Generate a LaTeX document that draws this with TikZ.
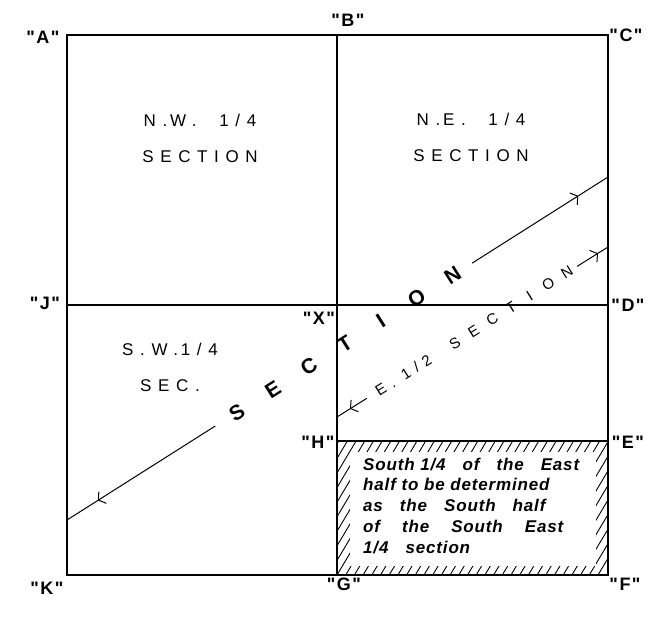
\documentclass[tikz,border=0pt]{standalone}
\usepackage{fontspec}
\setmainfont{Liberation Sans}
\newfontfamily\quarterfont[LetterSpace=39]{Liberation Sans}
\newfontfamily\halffont[LetterSpace=40]{Liberation Sans}
\newfontfamily\notefont[LetterSpace=5]{Liberation Sans}
\usetikzlibrary{arrows.meta,calc}
\newcommand\qq[1]{\textquotedbl\kern1.5pt#1\kern1.5pt\textquotedbl}
\newcommand\wsp{\hspace{17pt}}

\tikzset{
  corner/.style={font=\fontsize{18}{18}\selectfont\bfseries, inner sep=0pt},
  quarter/.style={font=\fontsize{17}{36}\selectfont\quarterfont, align=center, inner sep=0pt},
  bigletter/.style={font=\fontsize{21}{21}\selectfont\bfseries, inner sep=0pt},
  halftext/.style={font=\fontsize{15}{15}\selectfont\halffont, inner sep=0pt},
  halfletter/.style={font=\fontsize{15}{15}\selectfont, inner sep=0pt},
  note/.style={font=\fontsize{17}{20.8}\selectfont\notefont\bfseries\itshape, align=left, inner sep=0pt},
  bound/.style={line width=2pt},
  divide/.style={line width=1.6pt},
  bearing/.style={line width=1pt},
  barb/.style={-{Straight Barb[length=5pt,width=14pt]}},
}

\begin{document}
\begin{tikzpicture}[x=1pt,y=-1pt]
\useasboundingbox (0,0) rectangle (658,617);
% section corners
\coordinate (A) at (67,35);
\coordinate (B) at (337,35);
\coordinate (C) at (608,35);
\coordinate (J) at (67,305);
\coordinate (X) at (337,305);
\coordinate (D) at (608,305);
\coordinate (H) at (337,441);
\coordinate (E) at (608,441);
\coordinate (K) at (67,575);
\coordinate (G) at (337,575);
\coordinate (F) at (608,575);

% hatched strip round the south quarter of the east half
\begin{scope}
  \clip (H) rectangle (F);
  \foreach \x in {250,258.7,...,620}
    \draw[line width=0.9pt] (\x,575) -- ++(80,-134);
\end{scope}
\fill[white] (350,452) rectangle (596,566);

% lines of the section
\draw[bound] (A) -- (C) -- (F) -- (K) -- cycle;
\draw[divide] (B) -- (G);
\draw[divide] (J) -- (D);
\draw[divide] (H) -- (E);

% corner labels
\node[corner] (lA) at (43,37) {\qq{A}};
\node[corner] (lB) at (348,20) {\qq{B}};
\node[corner] (lC) at (626,35) {\qq{C}};
\node[corner] (lJ) at (45,303) {\qq{J}};
\node[corner] (lX) at (319,318) {\qq{X}};
\node[corner] (lD) at (628,305) {\qq{D}};
\node[corner] (lH) at (318,442) {\qq{H}};
\node[corner] (lE) at (628,442) {\qq{E}};
\node[corner] (lK) at (47,588) {\qq{K}};
\node[corner] (lG) at (344,584) {\qq{G}};
\node[corner] (lF) at (625,584) {\qq{F}};

% quarter sections
\node[quarter] (nw) at (200,138) {N.\,W.\ \ 1/4\\SECTION};
\node[quarter] (ne) at (471,137) {N.\,E.\ \ 1/4\\SECTION};
\node[quarter] (swq) at (170,367) {S.W.\,1/4\\SEC.};

% whole section
\coordinate (sw) at (67,520);
\coordinate (nee) at (608,177);
\coordinate (sw tip) at ($(sw)!0.057!(nee)$);
\coordinate (sw gap) at ($(sw)!0.274!(nee)$);
\coordinate (ne gap) at ($(sw)!0.749!(nee)$);
\coordinate (ne tip) at ($(sw)!0.945!(nee)$);
\draw[bearing,barb] (sw gap) -- (sw tip);
\draw[bearing] (sw tip) -- (sw);
\draw[bearing,barb] (ne gap) -- (ne tip);
\draw[bearing] (ne tip) -- (nee);
\foreach \l [count=\i from 0, evaluate=\i as \t using 0.314+0.0665*\i] in {S,E,C,T,I,O,N}
  \node[bigletter, rotate=32.4] at ($(sw)!\t!(nee)$) {\l};

% east half
\coordinate (hw) at (337,417);
\coordinate (he) at (608,247);
\coordinate (hw tip) at ($(hw)!0.048!(he)$);
\coordinate (hw gap) at ($(hw)!0.11!(he)$);
\coordinate (he gap) at ($(hw)!0.886!(he)$);
\coordinate (he tip) at ($(hw)!0.963!(he)$);
\draw[bearing,barb] (hw gap) -- (hw tip);
\draw[bearing] (hw tip) -- (hw);
\draw[bearing,barb] (he gap) -- (he tip);
\draw[bearing] (he tip) -- (he);
\node[halftext, rotate=32.1] (half) at ($(hw)!0.245!(he)$) {E.\ 1/2};
\foreach \l [count=\i from 0, evaluate=\i as \t using 0.435+0.069*\i] in {S,E,C,T,I,O,N}
  \node[halfletter, rotate=32.1] at ($(hw)!\t!(he)$) {\l};

% south quarter of the east half
\node[note, anchor=north west] (sq) at (363,457.6)
  {South 1/4\wsp of\wsp the\wsp East\\half to be determined\\as\wsp the\wsp South\wsp half\\of\hspace{22pt}the\hspace{22pt}South\hspace{22pt}East\\1/4\wsp section};
\end{tikzpicture}
\end{document}
